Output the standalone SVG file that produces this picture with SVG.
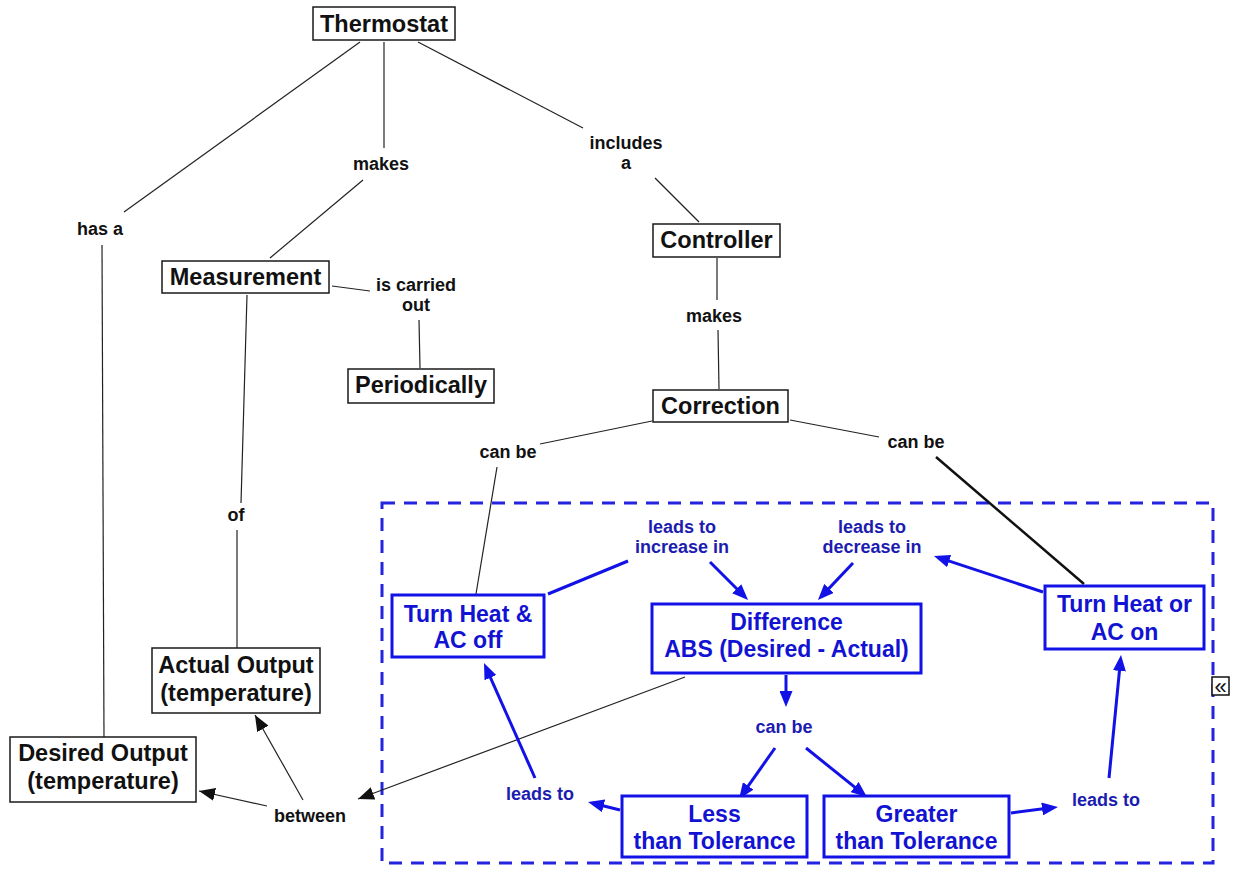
<svg xmlns="http://www.w3.org/2000/svg" width="1233" height="869" viewBox="0 0 1233 869">
<style>
  .nb { fill: #ffffff; stroke: #1a1a1a; stroke-width: 1.5; }
  .bb { fill: #ffffff; stroke: #1212e6; stroke-width: 3; }
  .nt { font-family: "Liberation Sans", Arial, sans-serif; font-weight: bold; font-size: 23.5px; fill: #111111; text-anchor: middle; }
  .bt { font-family: "Liberation Sans", Arial, sans-serif; font-weight: bold; font-size: 23px; fill: #1212d2; text-anchor: middle; }
  .lt { font-family: "Liberation Sans", Arial, sans-serif; font-weight: bold; font-size: 18px; fill: #111111; text-anchor: middle; }
  .lbt { font-family: "Liberation Sans", Arial, sans-serif; font-weight: bold; font-size: 18px; fill: #1c1cb0; text-anchor: middle; }
  .k { stroke: #222222; stroke-width: 1.2; fill: none; }
  .kt { stroke: #111111; stroke-width: 2.5; fill: none; }
  .b { stroke: #1212e6; stroke-width: 3; fill: none; }
  .ka { stroke: #222222; stroke-width: 1.2; fill: none; marker-end: url(#ak); }
  .ba { stroke: #1212e6; stroke-width: 3; fill: none; marker-end: url(#ab); }
</style>
<defs>
  <marker id="ab" viewBox="0 0 16 13" refX="11" refY="6.5" markerWidth="16" markerHeight="13" markerUnits="userSpaceOnUse" orient="auto">
    <path d="M0,0 L16,6.5 L0,13 z" fill="#1212e6"/>
  </marker>
  <marker id="ak" viewBox="0 0 16 13" refX="16" refY="6.5" markerWidth="16" markerHeight="13" markerUnits="userSpaceOnUse" orient="auto">
    <path d="M0,0 L16,6.5 L0,13 z" fill="#111111"/>
  </marker>
</defs>
<rect x="0" y="0" width="1233" height="869" fill="#ffffff"/>

<g id="group-box">
  <rect x="382" y="503" width="831" height="360" fill="none" stroke="#2323e0" stroke-width="3" stroke-dasharray="13 9"/>
</g>

<g id="connectors">
  <line class="k" x1="360" y1="42" x2="124" y2="212"/>
  <line class="k" x1="102" y1="245" x2="104" y2="737"/>
  <line class="k" x1="384" y1="42" x2="384" y2="148"/>
  <line class="k" x1="363" y1="180" x2="270" y2="258"/>
  <line class="k" x1="418" y1="42" x2="583" y2="128"/>
  <line class="k" x1="655" y1="178" x2="699" y2="222"/>
  <line class="k" x1="717" y1="258" x2="717" y2="300"/>
  <line class="k" x1="718" y1="330" x2="719" y2="389"/>
  <line class="k" x1="332" y1="286" x2="370" y2="291"/>
  <line class="k" x1="419" y1="320" x2="420" y2="368"/>
  <line class="k" x1="247" y1="295" x2="241" y2="503"/>
  <line class="k" x1="237" y1="530" x2="237" y2="648"/>
  <line class="k" x1="652" y1="421" x2="540" y2="444"/>
  <line class="k" x1="497" y1="467" x2="476" y2="594"/>
  <line class="k" x1="790" y1="420" x2="879" y2="437"/>
  <line class="kt" x1="936" y1="457" x2="1084" y2="584"/>
  <line class="ka" x1="685" y1="677" x2="358" y2="799"/>
  <line class="ka" x1="267" y1="806" x2="199" y2="791"/>
  <line class="ka" x1="303" y1="800" x2="255" y2="715"/>

  <line class="b" x1="548" y1="594" x2="628" y2="561"/>
  <line class="ba" x1="710" y1="562" x2="744.5" y2="596.5"/>
  <line class="ba" x1="1043" y1="592" x2="938.7" y2="557.6"/>
  <line class="ba" x1="853" y1="563" x2="821.4" y2="596.4"/>
  <line class="ba" x1="786" y1="675" x2="786" y2="702"/>
  <line class="ba" x1="775" y1="748" x2="741.9" y2="794.9"/>
  <line class="ba" x1="806" y1="748" x2="863.1" y2="793.9"/>
  <line class="ba" x1="620" y1="810" x2="592.9" y2="803.2"/>
  <line class="ba" x1="535" y1="778" x2="486" y2="667.6"/>
  <line class="ba" x1="1011" y1="813" x2="1053" y2="807.6"/>
  <line class="ba" x1="1109" y1="778" x2="1120.5" y2="660"/>
</g>

<g id="labels">
  <text class="lt" x="100" y="235">has a</text>
  <text class="lt" x="381" y="170">makes</text>
  <text class="lt" x="626" y="149">includes</text>
  <text class="lt" x="626" y="169">a</text>
  <text class="lt" x="416" y="291">is carried</text>
  <text class="lt" x="416" y="311">out</text>
  <text class="lt" x="714" y="322">makes</text>
  <text class="lt" x="236" y="521">of</text>
  <text class="lt" x="508" y="458">can be</text>
  <text class="lt" x="916" y="448">can be</text>
  <text class="lt" x="310" y="822">between</text>
  <text class="lbt" x="682" y="533">leads to</text>
  <text class="lbt" x="682" y="553">increase in</text>
  <text class="lbt" x="872" y="533">leads to</text>
  <text class="lbt" x="872" y="553">decrease in</text>
  <text class="lbt" x="784" y="733">can be</text>
  <text class="lbt" x="540" y="800">leads to</text>
  <text class="lbt" x="1106" y="806">leads to</text>
</g>

<g id="thermostat">
  <rect class="nb" x="313" y="7" width="142" height="33"/>
  <text class="nt" x="384" y="32">Thermostat</text>
</g>
<g id="measurement">
  <rect class="nb" x="162" y="261" width="167" height="32"/>
  <text class="nt" x="245.5" y="285">Measurement</text>
</g>
<g id="periodically">
  <rect class="nb" x="348" y="369" width="146" height="34"/>
  <text class="nt" x="421" y="393">Periodically</text>
</g>
<g id="controller">
  <rect class="nb" x="653" y="224" width="127" height="33"/>
  <text class="nt" x="716.5" y="248">Controller</text>
</g>
<g id="correction">
  <rect class="nb" x="653" y="390" width="135" height="32"/>
  <text class="nt" x="720.5" y="414">Correction</text>
</g>
<g id="actual-output">
  <rect class="nb" x="152" y="648" width="168" height="65"/>
  <text class="nt" x="236" y="673">Actual Output</text>
  <text class="nt" x="236" y="701">(temperature)</text>
</g>
<g id="desired-output">
  <rect class="nb" x="10" y="737" width="186" height="65"/>
  <text class="nt" x="103" y="761">Desired Output</text>
  <text class="nt" x="103" y="789">(temperature)</text>
</g>
<g id="turn-off">
  <rect class="bb" x="392" y="595" width="152" height="62"/>
  <text class="bt" x="468" y="622">Turn Heat &amp;</text>
  <text class="bt" x="468" y="648">AC off</text>
</g>
<g id="difference">
  <rect class="bb" x="652" y="604" width="269" height="69"/>
  <text class="bt" x="786.5" y="630">Difference</text>
  <text class="bt" x="786.5" y="657">ABS (Desired - Actual)</text>
</g>
<g id="turn-on">
  <rect class="bb" x="1045" y="586" width="159" height="63"/>
  <text class="bt" x="1124.5" y="612">Turn Heat or</text>
  <text class="bt" x="1124.5" y="640">AC on</text>
</g>
<g id="less">
  <rect class="bb" x="622" y="796" width="185" height="61"/>
  <text class="bt" x="714.5" y="822">Less</text>
  <text class="bt" x="714.5" y="849">than Tolerance</text>
</g>
<g id="greater">
  <rect class="bb" x="824" y="796" width="185" height="61"/>
  <text class="bt" x="916.5" y="822">Greater</text>
  <text class="bt" x="916.5" y="849">than Tolerance</text>
</g>
<g id="collapse-icon">
  <rect x="1212" y="677" width="17" height="18" fill="#ffffff" stroke="#111111" stroke-width="1.5"/>
  <text x="1220.5" y="694" font-family="Liberation Sans, Arial, sans-serif" font-size="22" fill="#111111" text-anchor="middle">«</text>
</g>
</svg>
